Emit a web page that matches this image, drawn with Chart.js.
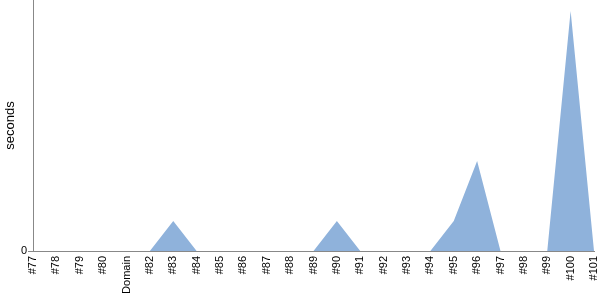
<!DOCTYPE html>
<html>
<head>
<meta charset="utf-8">
<script src="https://cdn.jsdelivr.net/npm/chart.js@4/dist/chart.umd.min.js"></script>
<style>
html,body{margin:0;padding:0;background:#fff;}
#wrap{width:600px;height:300px;position:relative;}
</style>
</head>
<body>
<div id="wrap"><canvas id="c"></canvas></div>
<script>
const categories = ['#77','#78','#79','#80','Domain','#82','#83','#84','#85','#86','#87','#88','#89','#90','#91','#92','#93','#94','#95','#96','#97','#98','#99','#100','#101'];
const seconds = [0,0,0,0,0,0,1,0,0,0,0,0,0,1,0,0,0,0,1,3,0,0,0,8,0];
const yTicks = [0];
const yMax = 8.37;

new Chart(document.getElementById('c'), {
  type: 'line',
  data: {
    labels: categories,
    datasets: [{
      data: seconds,
      fill: 'origin',
      backgroundColor: 'rgb(143,178,219)',
      borderColor: 'rgb(143,178,219)',
      borderWidth: 0,
      pointRadius: 0,
      tension: 0
    }]
  },
  options: {
    responsive: true,
    maintainAspectRatio: false,
    animation: false,
    layout: { padding: { top: 0, right: 6, left: 0, bottom: 0 } },
    plugins: { legend: { display: false }, tooltip: { enabled: false } },
    scales: {
      x: {
        offset: false,
        grid: { display: false, drawTicks: false },
        border: { display: true, color: '#888888', width: 1 },
        ticks: {
          color: '#000',
          font: { family: 'Liberation Sans', size: 11 },
          minRotation: 90, maxRotation: 90,
          autoSkip: false,
          padding: 5
        },
        afterFit: s => { s.height = 49; s.paddingLeft = 0; s.paddingRight = 0; }
      },
      y: {
        min: 0, max: yMax,
        grid: { display: true, drawOnChartArea: false, drawTicks: true, tickLength: 5, color: '#888888' },
        border: { display: true, color: '#888888', width: 1 },
        afterBuildTicks: s => { s.ticks = yTicks.map(v => ({ value: v })); },
        ticks: {
          color: '#000',
          font: { family: 'Liberation Sans', size: 11 },
          padding: 1
        },
        title: {
          display: true, text: 'seconds', color: '#000',
          font: { family: 'Liberation Sans', size: 13 },
          padding: { top: 3, bottom: 0 }
        },
        afterFit: s => { s.width = 33; s.paddingTop = 0; s.paddingBottom = 0; }
      }
    }
  }
});
</script>
</body>
</html>
